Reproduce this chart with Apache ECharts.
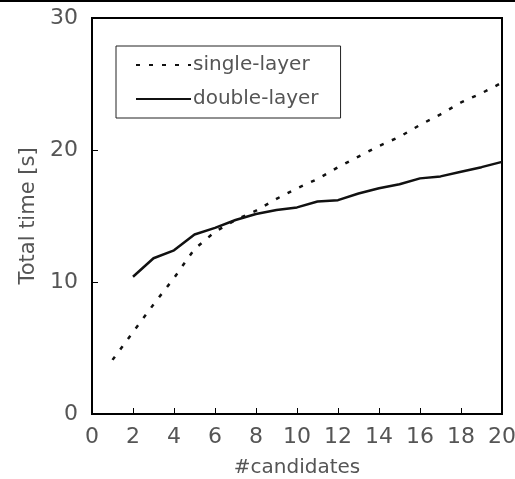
<!DOCTYPE html>
<html>
<head>
<meta charset="utf-8">
<script src="https://cdn.jsdelivr.net/npm/echarts@6/dist/echarts.min.js"></script>
<style>
  html, body { margin: 0; padding: 0; background: #fff; }
  #chart { width: 515px; height: 479px; }
</style>
</head>
<body>
<div id="chart"></div>
<script>
// 数据
const candidates = [1, 2, 3, 4, 5, 6, 7, 8, 9, 10, 11, 12, 13, 14, 15, 16, 17, 18, 19, 20];
const singleLayer = [4.1, 6.2, 8.3, 10.3, 12.5, 13.8, 14.7, 15.4, 16.3, 17.1, 17.8, 18.7, 19.5, 20.3, 21.0, 21.9, 22.7, 23.6, 24.3, 25.1];
const doubleLayer = [null, 10.4, 11.8, 12.4, 13.6, 14.1, 14.7, 15.15, 15.45, 15.65, 16.1, 16.2, 16.7, 17.1, 17.4, 17.85, 18.0, 18.35, 18.7, 19.1];
const seriesNames = ['single-layer', 'double-layer'];

const toPairs = (ys) => candidates.map((x, i) => [x, ys[i]]).filter(p => p[1] !== null);

const font = '"DejaVu Sans", sans-serif';
const textColor = '#555';

const myChart = echarts.init(document.getElementById('chart'), null, { renderer: 'canvas' });

myChart.setOption({
    animation: false,
    textStyle: { fontFamily: font },
    grid: {
        left: 92,
        right: 13,
        top: 18,
        bottom: 65,
        outerBoundsMode: 'none', // 保持固定的绘图区域
        show: true,
        borderColor: '#000',
        borderWidth: 2,
        backgroundColor: '#fff',
    },
    // 顶部的黑线
    graphic: [
        {
            type: 'rect',
            shape: { x: 0, y: 0, width: 515, height: 2 },
            style: { fill: '#000' },
        },
    ],
    legend: {
        data: seriesNames,
        orient: 'vertical',
        left: 116,
        top: 46,
        padding: [9, 22, 9, 19],
        itemWidth: 55,
        itemHeight: 14,
        itemGap: 14,
        borderColor: '#222',
        borderWidth: 1,
        backgroundColor: '#fff',
        itemStyle: { opacity: 0 }, // 隐藏图例中的标记点
        textStyle: { fontFamily: font, fontSize: 20, color: textColor, padding: [0, 0, 0, -3] },
    },
    xAxis: {
        type: 'value',
        min: 0,
        max: 20,
        interval: 2,
        name: '#candidates',
        nameLocation: 'middle',
        nameGap: 44,
        nameTextStyle: { fontSize: 20, color: textColor },
        axisLine: { lineStyle: { color: '#000', width: 2 } },
        axisTick: { inside: true, length: 6, lineStyle: { color: '#000', width: 1 } },
        axisLabel: { fontSize: 22, color: textColor, margin: 12 },
        splitLine: { show: false },
    },
    yAxis: {
        type: 'value',
        min: 0,
        max: 30,
        interval: 10,
        name: 'Total time [s]',
        nameLocation: 'middle',
        nameGap: 52,
        nameTextStyle: { fontSize: 21, color: textColor },
        axisLine: { show: true, lineStyle: { color: '#000', width: 2 } },
        axisTick: { show: true, inside: true, length: 6, lineStyle: { color: '#000', width: 1 } },
        axisLabel: { fontSize: 22, color: textColor, margin: 14 },
        splitLine: { show: false },
    },
    series: [
        {
            name: seriesNames[0],
            type: 'line',
            data: toPairs(singleLayer),
            symbol: 'none',
            lineStyle: { color: '#111', width: 2.5, type: [4, 9] },
            itemStyle: { color: '#111' },
        },
        {
            name: seriesNames[1],
            type: 'line',
            data: toPairs(doubleLayer),
            symbol: 'none',
            lineStyle: { color: '#111', width: 2.5 },
            itemStyle: { color: '#111' },
        },
    ],
});
</script>
</body>
</html>
